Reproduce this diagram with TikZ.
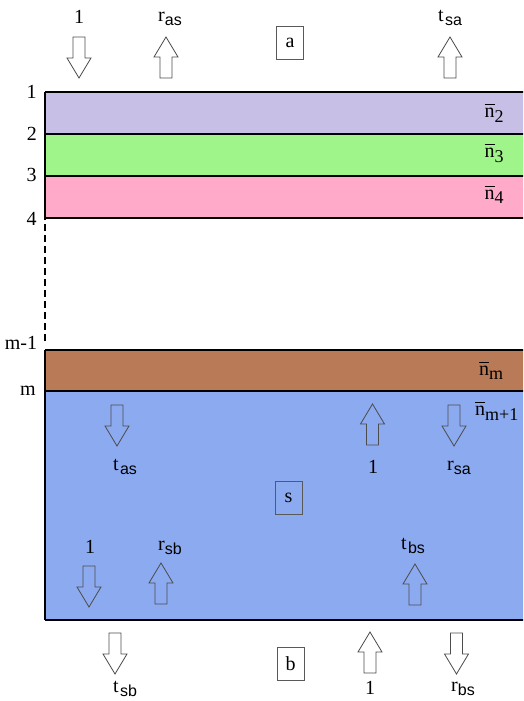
\documentclass[tikz,border=0pt]{standalone}
\usepackage{fontspec}
\setmainfont{Liberation Serif}
\newfontfamily\subfont{Liberation Sans}
\definecolor{lav}{RGB}{200,191,231}
\definecolor{lgreen}{RGB}{160,245,138}
\definecolor{lpink}{RGB}{255,170,200}
\definecolor{lbrown}{RGB}{185,122,87}
\definecolor{lblue}{RGB}{140,170,240}
\newcommand\sbs[2]{#1\raisebox{-3.5pt}{\subfont\fontsize{16}{16}\selectfont #2}}
\newcommand\nbar[1]{$\overline{\hbox{\rule{0pt}{12pt}n}}$\raisebox{-4.5pt}{\fontsize{18}{18}\selectfont #1}}
\tikzset{
  lbl/.style={inner sep=0pt, font=\fontsize{20}{22}\selectfont},
  boxlbl/.style={draw=black!65, line width=0.8pt, minimum width=27pt, minimum height=33pt, inner sep=0pt, font=\fontsize{20}{22}\selectfont},
  layerline/.style={line width=1.5pt},
  arr/.style={draw=black!70, line width=0.8pt, line join=miter},
  downarr/.pic={\draw[arr] (-6,0) -- (6,0) -- (6,21) -- (12,21) -- (0,41) -- (-12,21) -- (-6,21) -- cycle;},
  uparr/.pic={\draw[arr] (0,0) -- (12,20) -- (6,20) -- (6,41) -- (-6,41) -- (-6,20) -- (-12,20) -- cycle;}
}
\begin{document}
\begin{tikzpicture}[x=1pt,y=-1pt]
\useasboundingbox (0,0) rectangle (523,701);
\clip (0,0) rectangle (523,701);
% layers
\fill[lav] (45,92) rectangle (560,134);
\fill[lgreen] (45,134) rectangle (560,176);
\fill[lpink] (45,176) rectangle (560,218);
\fill[lbrown] (45,350) rectangle (560,391);
\fill[lblue] (45,391) rectangle (560,620);
\foreach \yy in {92,134,176,218,350,391,620}
  \draw[layerline] (45,\yy) -- (560,\yy);
\draw[layerline] (45,92) -- (45,220);
\draw[layerline] (45,350) -- (45,620);
\draw[layerline, dash pattern=on 7pt off 4pt] (45,224) -- (45,343);
% left labels
\node[lbl] (l1) at (31.5,91.5) {1};
\node[lbl] (l2) at (32,133.5) {2};
\node[lbl] (l3) at (31.5,175) {3};
\node[lbl] (l4) at (31.5,219) {4};
\node[lbl] (lm1) at (21,343) {m-1};
\node[lbl] (lm) at (28,391) {m};
% n-bar labels
\node[lbl] (n2) at (494,113) {\nbar{2}};
\node[lbl] (n3) at (494,153) {\nbar{3}};
\node[lbl] (n4) at (494,194.5) {\nbar{4}};
\node[lbl] (nm) at (491,370.5) {\nbar{m}};
\node[lbl, anchor=west] (nm1) at (475,411) {\nbar{m+1}};
% boxes
\node[boxlbl] (ba) at (290,43) {a};
\node[boxlbl] (bs) at (288.5,497.5) {s};
\node[boxlbl] (bb) at (290.5,664) {b};
% top region
\node[lbl] (tin) at (79,17) {1};
\node[lbl] (tras) at (170,19) {\sbs{r}{as}};
\node[lbl] (ttsa) at (450,18) {\sbs{t\kern1.5pt}{sa}};
\pic at (79,37) {downarr};
\pic at (166,37) {uparr};
\pic at (450,37) {uparr};
% substrate top
\pic at (117,405) {downarr};
\pic at (372.5,404) {uparr};
\pic at (454,405) {downarr};
\node[lbl] (stas) at (125,467) {\sbs{t\kern1.5pt}{as}};
\node[lbl] (sone) at (373,467) {1};
\node[lbl] (srsa) at (459,468) {\sbs{r}{sa}};
% substrate bottom
\node[lbl] (bone) at (90,547) {1};
\node[lbl] (brsb) at (170,548) {\sbs{r}{sb}};
\node[lbl] (btbs) at (413,546) {\sbs{t\kern1.5pt}{bs}};
\pic at (89,566) {downarr};
\pic at (161,563) {uparr};
\pic at (415,564) {uparr};
% below
\pic at (115,633) {downarr};
\pic at (370,632) {uparr};
\pic at (456.5,633) {downarr};
\node[lbl] (btsb) at (125,689) {\sbs{t\kern1.5pt}{sb}};
\node[lbl] (bbone) at (370,688) {1};
\node[lbl] (brbs) at (463,689) {\sbs{r}{bs}};
\end{tikzpicture}
\end{document}
